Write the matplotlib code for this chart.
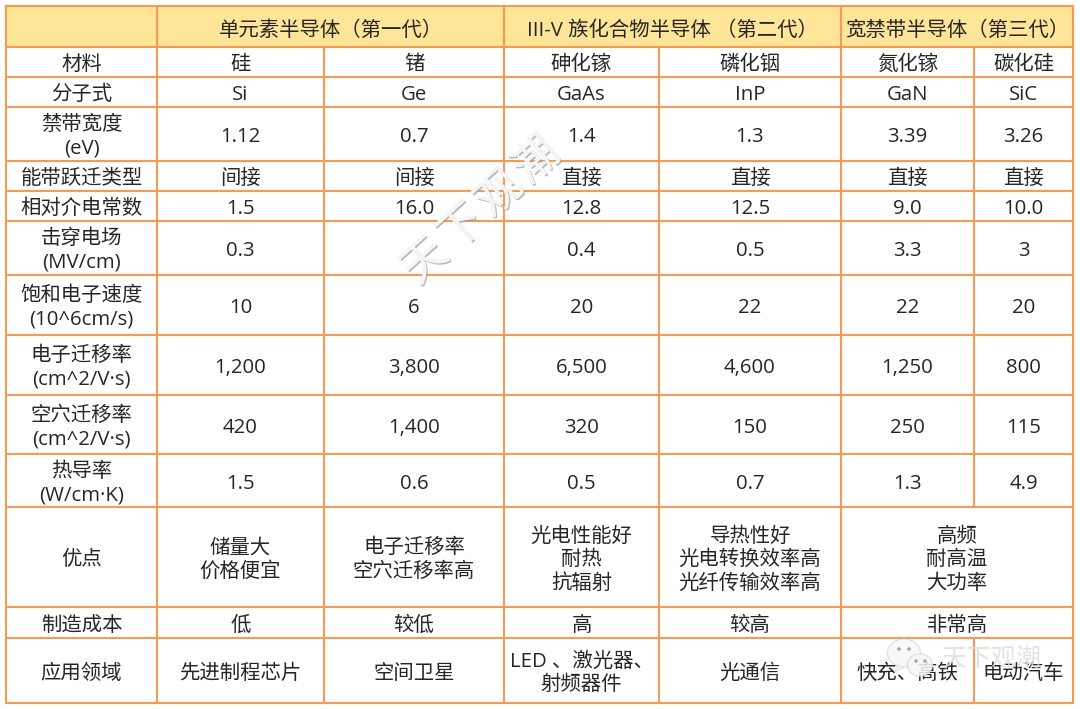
import math
import matplotlib
matplotlib.use("Agg")
import matplotlib.pyplot as plt
import matplotlib.patheffects as pe
from matplotlib.patches import Ellipse, Rectangle, Polygon

# table content
group_labels = ["", "单元素半导体（第一代）", "III-V 族化合物半导体 （第二代）", "宽禁带半导体（第三代）"]
row_labels = ["材料", "分子式", "禁带宽度\n(eV)", "能带跃迁类型", "相对介电常数", "击穿电场\n(MV/cm)",
              "饱和电子速度\n(10^6cm/s)", "电子迁移率\n(cm^2/V·s)", "空穴迁移率\n(cm^2/V·s)",
              "热导率\n(W/cm·K)", "优点", "制造成本", "应用领域"]
materials = ["硅", "锗", "砷化镓", "磷化铟", "氮化镓", "碳化硅"]
formula = ["Si", "Ge", "GaAs", "InP", "GaN", "SiC"]
band_gap = ["1.12", "0.7", "1.4", "1.3", "3.39", "3.26"]
transition = ["间接", "间接", "直接", "直接", "直接", "直接"]
dielectric = ["1.5", "16.0", "12.8", "12.5", "9.0", "10.0"]
breakdown = ["0.3", "", "0.4", "0.5", "3.3", "3"]
saturation = ["10", "6", "20", "22", "22", "20"]
electron_mob = ["1,200", "3,800", "6,500", "4,600", "1,250", "800"]
hole_mob = ["420", "1,400", "320", "150", "250", "115"]
thermal = ["1.5", "0.6", "0.5", "0.7", "1.3", "4.9"]
# the last columns of these rows share one merged cell
advantages = ["储量大\n价格便宜", "电子迁移率\n空穴迁移率高", "光电性能好\n耐热\n抗辐射",
              "导热性好\n光电转换效率高\n光纤传输效率高", "高频\n耐高温\n大功率"]
cost = ["低", "较低", "高", "较高", "非常高"]
usage = ["先进制程芯片", "空间卫星", "LED 、激光器、\n射频器件", "光通信", "快充、高铁", "电动汽车"]

rows = [materials, formula, band_gap, transition, dielectric, breakdown, saturation,
        electron_mob, hole_mob, thermal, advantages, cost, usage]

# layout in pixels
col_x = [6, 157, 324, 504, 659, 841, 974, 1073]
row_y = [6, 47, 77, 107, 161, 191, 221, 275, 335, 395, 454, 507, 607, 638, 703]
line_color = "#F79A55"
head_color = "#FFE597"
text_color = "#262626"
font_px = 20.4
line_px = 23.5
fams = ["Open Sans", "Noto Sans CJK SC", "DejaVu Sans"]
plt.rcParams["font.family"] = fams

fig = plt.figure(figsize=(10.8, 7.09), dpi=100)
ax = fig.add_axes([0, 0, 1, 1])
ax.set_xlim(0, 1080)
ax.set_ylim(709, 0)
ax.axis("off")


def cell_text(x, y, s, size=font_px):
    # baseline placement so latin and CJK lines sit level
    parts = s.split("\n")
    top = y - (len(parts) - 1) * line_px / 2
    for i, p in enumerate(parts):
        ax.text(x, top + i * line_px + size * 0.36 + 0.8, p, ha="center", va="baseline",
                fontsize=size * 0.72, color=text_color, zorder=4)


# header band
ax.add_patch(Rectangle((col_x[0], row_y[0]), col_x[-1] - col_x[0], row_y[1] - row_y[0],
                       fc=head_color, ec="none", zorder=1))

# horizontal rules
for y in row_y:
    ax.plot([col_x[0], col_x[-1]], [y, y], color=line_color, lw=1.5, zorder=2, solid_capstyle="projecting")

# outer and group rules, full height
for x in [col_x[0], col_x[1], col_x[3], col_x[5], col_x[7]]:
    ax.plot([x, x], [row_y[0], row_y[-1]], color=line_color, lw=1.5, zorder=2, solid_capstyle="projecting")

# inner rules per row
for r, vals in enumerate(rows):
    y0, y1 = row_y[r + 1], row_y[r + 2]
    for x in [col_x[2], col_x[4]]:
        ax.plot([x, x], [y0, y1], color=line_color, lw=1.5, zorder=2)
    if len(vals) == 6:
        ax.plot([col_x[6], col_x[6]], [y0, y1], color=line_color, lw=1.5, zorder=2)

# header text
group_edges = [(col_x[0], col_x[1]), (col_x[1], col_x[3]), (col_x[3], col_x[5]), (col_x[5], col_x[7])]
for (a, b), lab in zip(group_edges, group_labels):
    if lab:
        cell_text((a + b) / 2, (row_y[0] + row_y[1]) / 2 + 1, lab)

# body text
for r, vals in enumerate(rows):
    yc = (row_y[r + 1] + row_y[r + 2]) / 2
    cell_text((col_x[0] + col_x[1]) / 2, yc, row_labels[r])
    if len(vals) == 6:
        edges = list(zip(col_x[1:-1], col_x[2:]))
    else:
        edges = list(zip(col_x[1:5], col_x[2:6])) + [(col_x[5], col_x[7])]
    for (a, b), v in zip(edges, vals):
        if v:
            cell_text((a + b) / 2, yc, v)

# diagonal watermark, one character at a time for the wide spacing
mark = "天下观潮"
angle = 42
step = 50
for i, ch in enumerate(mark):
    d = (i - 1.5) * step
    ax.text(482 + d * math.cos(math.radians(angle)), 212 - d * math.sin(math.radians(angle)), ch,
            rotation=angle, ha="center", va="center", fontsize=32, color="#F5F5F5", fontfamily=fams, zorder=5,
            path_effects=[pe.withSimplePatchShadow(offset=(1, -1), shadow_rgbFace="#9A9A9A", alpha=0.7), pe.Normal()])

# wechat mark, bottom right
for cx, cy, w, h in [(904, 653, 33, 28), (920, 665, 25, 22)]:
    ax.add_patch(Ellipse((cx, cy), w, h, fc="#F7F7F7", ec="#D8D8D8", lw=0.8, alpha=0.85, zorder=5))
ax.add_patch(Polygon([[898, 665], [895, 672], [904, 667]], fc="#F7F7F7", ec="#D8D8D8", lw=0.6, zorder=5))
for dx, dy in [(899, 649), (909, 649), (916, 661), (925, 661)]:
    ax.add_patch(Ellipse((dx, dy), 3.5, 3.5, fc="#A5A5A5", ec="none", zorder=6))
ax.text(992, 660, "天下观潮", ha="center", va="center", fontsize=18, color="#DCDCDC", alpha=0.8,
        fontfamily=fams, zorder=5)

fig.savefig("out.png", dpi=100)
